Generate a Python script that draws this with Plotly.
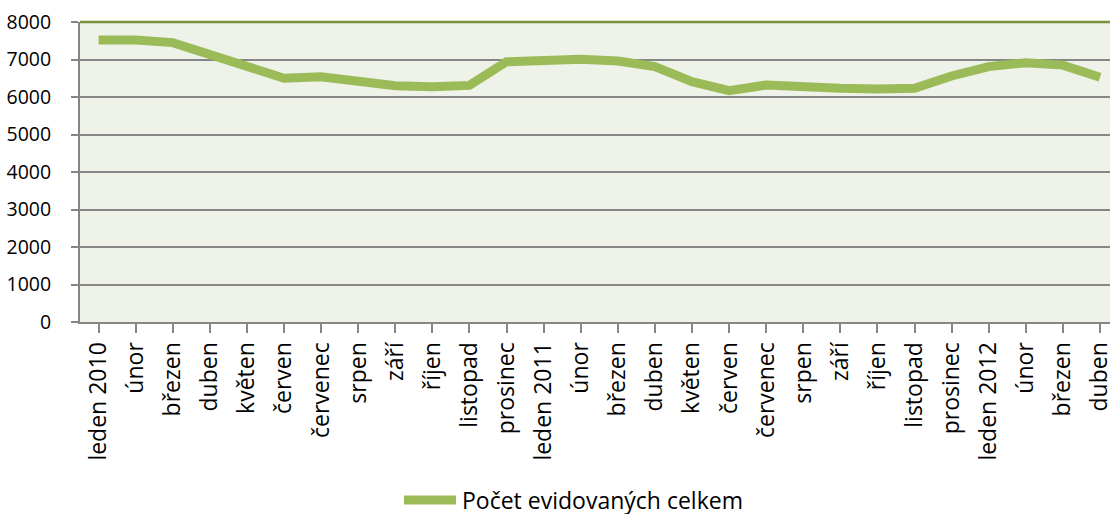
import plotly.graph_objects as go

months = ["leden 2010", "únor", "březen", "duben", "květen", "červen", "červenec",
          "srpen", "září", "říjen", "listopad", "prosinec",
          "leden 2011", "únor", "březen", "duben", "květen", "červen", "červenec",
          "srpen", "září", "říjen", "listopad", "prosinec",
          "leden 2012", "únor", "březen", "duben"]
values = [7520, 7520, 7450, 7120, 6810, 6500, 6540, 6410, 6300, 6275, 6310, 6940,
          6985, 7005, 6960, 6810, 6410, 6170, 6320, 6260, 6235, 6215, 6235, 6560,
          6810, 6915, 6850, 6525]
series_name = "Počet evidovaných celkem"
y_ticks = [0, 1000, 2000, 3000, 4000, 5000, 6000, 7000, 8000]

line_color = "#9BBB59"
font_family = "Open Sans, Noto Sans, sans-serif"

fig = go.Figure()
fig.add_trace(go.Scatter(
    x=list(range(len(months))), y=values, mode="lines", name=series_name,
    line=dict(color=line_color, width=9, shape="linear"),
    showlegend=False, cliponaxis=True,
))

fig.update_layout(
    width=1110, height=514,
    margin=dict(l=80, r=0, t=22, b=192, autoexpand=False),
    paper_bgcolor="white",
    plot_bgcolor="#EEF2E8",
    font=dict(family=font_family, color="black"),
    xaxis=dict(
        tickmode="array", tickvals=list(range(len(months))), ticktext=months,
        range=[-0.5, 27.27], tickangle=-90,
        showgrid=False, zeroline=False,
        showline=True, linecolor="#868686", linewidth=2,
        ticks="outside", ticklen=9, tickcolor="#868686", tickwidth=2,
        tickfont=dict(size=23, family=font_family),
        ticklabelstandoff=0, automargin=False, ticklabeloverflow="allow",
    ),
    yaxis=dict(
        range=[0, 8000], tickvals=y_ticks,
        showgrid=True, gridcolor="#868686", gridwidth=1.5,
        zeroline=False,
        showline=True, linecolor="#868686", linewidth=2,
        ticks="outside", ticklen=7, tickcolor="#868686", tickwidth=2,
        tickfont=dict(size=19.5, family=font_family),
        ticklabelstandoff=16, automargin=False,
    ),
    shapes=[
        dict(type="line", xref="x domain", yref="y domain", x0=0, x1=1, y0=1, y1=1,
             line=dict(color="#77933C", width=2.5), layer="above"),
        dict(type="line", xref="paper", yref="paper",
             x0=(404 - 80) / 1030, x1=(456 - 80) / 1030,
             y0=-(500 - 322) / 300, y1=-(500 - 322) / 300,
             line=dict(color=line_color, width=9)),
    ],
    annotations=[
        dict(text=series_name, xref="paper", yref="paper",
             x=(460 - 80) / 1030, y=-(500 - 322) / 300,
             xanchor="left", yanchor="middle", showarrow=False,
             font=dict(size=23, family=font_family, color="black")),
    ],
)

fig.write_html("out.html", config={"displayModeBar": False},
               post_script="document.body.style.margin='0';document.body.style.overflow='hidden';")
